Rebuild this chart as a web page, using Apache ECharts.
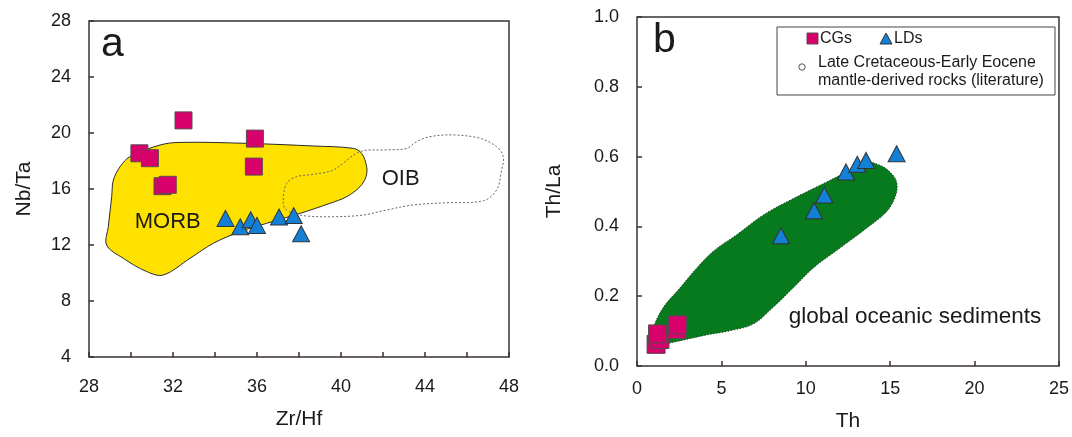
<!DOCTYPE html>
<html>
<head>
<meta charset="utf-8">
<script src="https://cdn.jsdelivr.net/npm/echarts@6/dist/echarts.min.js"></script>
<style>
html,body{margin:0;padding:0;background:#fff;}
#c{width:1072px;height:437px;}
</style>
</head>
<body>
<div id="c"></div>
<script>
// ---- Panel a: Zr/Hf vs Nb/Ta ----
const cgA_x = [32.5, 30.4, 30.9, 31.5, 31.75, 35.9, 35.85];
const cgA_y = [20.9, 18.55, 18.2, 16.2, 16.3, 19.6, 17.6];
const ldA_x = [34.5, 35.2, 35.7, 36.0, 37.05, 37.75, 38.1];
const ldA_y = [13.9, 13.3, 13.8, 13.4, 14.0, 14.1, 12.8];
const morb_x = [29.95, 31.38, 32.33, 35.51, 38.68, 40.59, 40.98, 41.22, 41.19, 40.9, 40.27, 39.48, 38.05, 36.46, 35.19, 33.92, 32.81, 31.54, 30.75, 29.63, 28.84, 28.92, 29.08, 29.16, 29.48];
const morb_y = [18.31, 19.14, 19.33, 19.26, 19.07, 18.9, 18.55, 17.6, 16.88, 16.16, 15.45, 14.98, 14.26, 13.55, 12.95, 12.12, 11.05, 9.86, 10.1, 11.05, 12.0, 13.31, 15.45, 16.64, 17.59];
const oib_x = [37.25, 37.41, 37.89, 38.68, 39.63, 40.9, 42.17, 43.13, 43.6, 44.24, 45.35, 46.62, 47.41, 47.73, 47.65, 47.41, 46.78, 45.03, 43.44, 42.17, 41.06, 39.63, 38.37, 37.73, 37.33];
const oib_y = [15.21, 16.4, 16.88, 17.05, 17.36, 18.66, 18.79, 18.9, 19.38, 19.74, 19.86, 19.62, 19.02, 18.31, 17.36, 15.93, 15.16, 15.02, 14.86, 14.5, 14.14, 14.02, 14.07, 14.26, 14.62];
const fieldLabelsA = [{text: 'MORB', x: 31.75, y: 13.67}, {text: 'OIB', x: 42.84, y: 16.69}];
const xTicksA = {min: 28, max: 48, step: 2, labelEvery: 4};
const yTicksA = {min: 4, max: 28, step: 4};

// ---- Panel b: Th vs Th/La ----
const cgB_x = [1.13, 1.36, 1.22, 2.35, 2.4];
const cgB_y = [0.062, 0.076, 0.092, 0.105, 0.118];
const ldB_x = [8.53, 10.49, 11.1, 12.38, 13.05, 13.57, 15.38];
const ldB_y = [0.373, 0.445, 0.49, 0.556, 0.578, 0.589, 0.608];
const sed_x = [0.97, 1.56, 2.55, 3.54, 4.52, 5.9, 7.48, 9.26, 10.84, 12.42, 13.6, 14.4, 14.99, 15.38, 15.34, 14.79, 13.6, 12.03, 10.45, 9.26, 8.07, 6.89, 5.51, 3.93, 2.15, 1.17, 0.87];
const sed_y = [0.111, 0.168, 0.224, 0.281, 0.329, 0.376, 0.433, 0.48, 0.518, 0.556, 0.584, 0.575, 0.556, 0.528, 0.49, 0.442, 0.395, 0.338, 0.281, 0.224, 0.168, 0.12, 0.101, 0.087, 0.068, 0.059, 0.078];
const fieldLabelsB = [{text: 'global oceanic sediments', x: 16.47, y: 0.141}];
const xTicksB = {min: 0, max: 25, step: 5};
const yTicksB = {min: 0, max: 1.0, step: 0.2};

const FONT = "'Liberation Sans', Arial, Helvetica, sans-serif";
const PINK = '#d8006b';
const BLUE = '#1380d8';
const YELLOW = '#ffe100';
const GREEN = '#067a1d';
const FRAME = '#3a3330';

const zip = (xs, ys) => xs.map((x, i) => [x, ys[i]]);

function polygonSeries(idx, xs, ys, style, z, smooth) {
  return {
    type: 'custom', xAxisIndex: idx, yAxisIndex: idx, z: z, silent: true,
    data: [[xs[0], ys[0]]],
    renderItem: function (params, api) {
      const pts = xs.map((x, i) => api.coord([x, ys[i]]));
      return {type: 'polygon', shape: {points: pts, smooth: smooth}, style: style};
    }
  };
}
function textSeries(idx, labels, fontSize) {
  return {
    type: 'custom', xAxisIndex: idx, yAxisIndex: idx, z: 5, silent: true,
    data: labels.map(l => [l.x, l.y]),
    renderItem: function (params, api) {
      const p = api.coord([api.value(0), api.value(1)]);
      return {type: 'text', x: p[0], y: p[1],
        style: {text: labels[params.dataIndex].text, font: fontSize + 'px ' + FONT, fill: '#1a1a1a', align: 'center', verticalAlign: 'middle'}};
    }
  };
}

const axisCommon = {
  axisLine: {show: false},
  axisTick: {show: true, inside: true, length: 5, lineStyle: {color: FRAME, width: 1.5}},
  splitLine: {show: false},
  axisLabel: {color: '#1a1a1a', fontSize: 18, fontFamily: FONT},
  nameLocation: 'middle',
  nameTextStyle: {color: '#1a1a1a', fontSize: 21, fontFamily: FONT}
};

const option = {
  animation: false,
  backgroundColor: '#fff',
  grid: [
    {left: 89, top: 21, width: 420, height: 336, show: true, borderColor: FRAME, borderWidth: 1.5, backgroundColor: 'transparent'},
    {left: 637, top: 17, width: 422, height: 352, show: true, borderColor: FRAME, borderWidth: 1.5, backgroundColor: 'transparent'}
  ],
  xAxis: [
    Object.assign({}, axisCommon, {type: 'value', gridIndex: 0, min: xTicksA.min, max: xTicksA.max, interval: xTicksA.step,
      name: 'Zr/Hf', nameGap: 52,
      axisLabel: Object.assign({}, axisCommon.axisLabel, {margin: 21, formatter: v => (v % xTicksA.labelEvery === 0 ? String(v) : '')})}),
    Object.assign({}, axisCommon, {type: 'value', gridIndex: 1, min: xTicksB.min, max: xTicksB.max, interval: xTicksB.step,
      name: 'Th', nameGap: 45,
      axisLabel: Object.assign({}, axisCommon.axisLabel, {margin: 14})})
  ],
  yAxis: [
    Object.assign({}, axisCommon, {type: 'value', gridIndex: 0, min: yTicksA.min, max: yTicksA.max, interval: yTicksA.step,
      name: 'Nb/Ta', nameGap: 54,
      axisLabel: Object.assign({}, axisCommon.axisLabel, {margin: 18})}),
    Object.assign({}, axisCommon, {type: 'value', gridIndex: 1, min: yTicksB.min, max: yTicksB.max, interval: yTicksB.step,
      name: 'Th/La', nameGap: 72,
      axisLabel: Object.assign({}, axisCommon.axisLabel, {margin: 18, formatter: v => v.toFixed(1)})})
  ],
  series: [
    polygonSeries(0, morb_x, morb_y, {fill: YELLOW, stroke: '#2a2a2a', lineWidth: 1}, 1, 0.35),
    polygonSeries(0, oib_x, oib_y, {fill: 'none', stroke: '#666', lineWidth: 1, lineDash: [2, 2]}, 2, 0.35),
    textSeries(0, fieldLabelsA, 22),
    {type: 'scatter', xAxisIndex: 0, yAxisIndex: 0, z: 4, symbol: 'rect', symbolSize: 17,
      itemStyle: {color: PINK, borderColor: '#5a4a50', borderWidth: 1, opacity: 1}, data: zip(cgA_x, cgA_y)},
    {type: 'scatter', xAxisIndex: 0, yAxisIndex: 0, z: 4, symbol: 'triangle', symbolSize: [17, 16],
      itemStyle: {color: BLUE, borderColor: '#333', borderWidth: 1, opacity: 1}, data: zip(ldA_x, ldA_y)},

    polygonSeries(1, sed_x, sed_y, {fill: GREEN, stroke: '#1e2e1e', lineWidth: 1, lineDash: [1, 2]}, 1, 0.35),
    textSeries(1, fieldLabelsB, 22.5),
    {type: 'scatter', xAxisIndex: 1, yAxisIndex: 1, z: 4, symbol: 'rect', symbolSize: 18,
      itemStyle: {color: PINK, borderColor: '#5a4a50', borderWidth: 1, opacity: 1}, data: zip(cgB_x, cgB_y)},
    {type: 'scatter', xAxisIndex: 1, yAxisIndex: 1, z: 4, symbol: 'triangle', symbolSize: [17, 16],
      itemStyle: {color: BLUE, borderColor: '#333', borderWidth: 1, opacity: 1}, data: zip(ldB_x, ldB_y)}
  ],
  graphic: [
    {type: 'text', left: 101, top: 24, style: {text: 'a', font: '41px ' + FONT, fill: '#1a1a1a'}},
    {type: 'text', left: 653, top: 20, style: {text: 'b', font: '41px ' + FONT, fill: '#1a1a1a'}},
    {type: 'rect', shape: {x: 777, y: 27, width: 278, height: 68}, style: {fill: '#fff', stroke: '#444', lineWidth: 1}, z: 10},
    {type: 'rect', shape: {x: 807, y: 33, width: 11, height: 11}, style: {fill: PINK, stroke: '#5a4a50', lineWidth: 1}, z: 11},
    {type: 'text', x: 820, y: 39, style: {text: 'CGs', font: '16px ' + FONT, fill: '#1a1a1a', verticalAlign: 'middle'}, z: 11},
    {type: 'polygon', shape: {points: [[880, 44], [892, 44], [886, 33]]}, style: {fill: BLUE, stroke: '#333', lineWidth: 1}, z: 11},
    {type: 'text', x: 894, y: 39, style: {text: 'LDs', font: '16px ' + FONT, fill: '#1a1a1a', verticalAlign: 'middle'}, z: 11},
    {type: 'circle', shape: {cx: 802, cy: 67, r: 3.2}, style: {fill: '#fff', stroke: '#555', lineWidth: 1}, z: 11},
    {type: 'text', x: 818, y: 63, style: {text: 'Late Cretaceous-Early Eocene', font: '16px ' + FONT, fill: '#1a1a1a', verticalAlign: 'middle'}, z: 11},
    {type: 'text', x: 818, y: 81, style: {text: 'mantle-derived rocks (literature)', font: '16px ' + FONT, fill: '#1a1a1a', verticalAlign: 'middle'}, z: 11}
  ]
};

const chart = echarts.init(document.getElementById('c'), null, {renderer: 'canvas'});
chart.setOption(option);
</script>
</body>
</html>
